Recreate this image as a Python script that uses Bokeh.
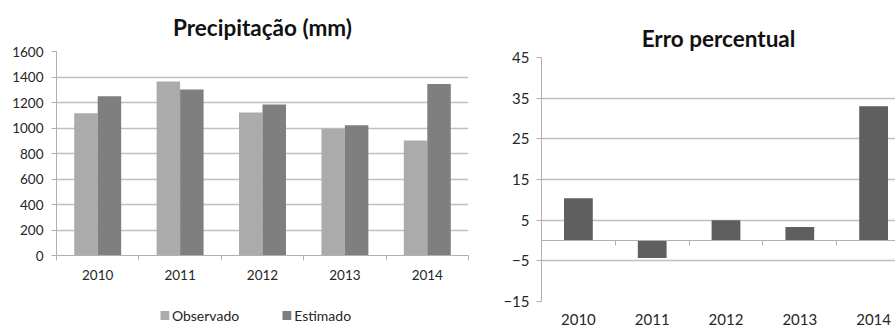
from bokeh.plotting import figure
from bokeh.models import (ColumnDataSource, Range1d, FixedTicker, LinearAxis, Legend,
                          LegendItem, Title, Grid)
from bokeh.transform import dodge
from bokeh.layouts import row, column
from bokeh.embed import file_html
from bokeh.resources import INLINE

years = ["2010", "2011", "2012", "2013", "2014"]
observado = [1116, 1365, 1122, 994, 902]
estimado = [1250, 1302, 1184, 1022, 1346]
erro = [10.4, -4.3, 5.0, 3.3, 33.0]
left_yticks = [0, 200, 400, 600, 800, 1000, 1200, 1400, 1600]
right_yticks = [-15, -5, 5, 15, 25, 35, 45]
series_names = ["Observado", "Estimado"]
titles = ["Precipitação (mm)", "Erro percentual"]

FONT = "Lato"
GRID = "#c0c0c0"
AXIS = "#b0b0b0"
TXT = "#262626"
C_OBS = "#ababab"
C_EST = "#7f7f7f"

centers = [i + 0.5 for i in range(len(years))]
bounds = [float(i) for i in range(len(years) + 1)]
labels = {c: y for c, y in zip(centers, years)}

# ---------------- left chart ----------------
src = ColumnDataSource(dict(x=centers, obs=observado, est=estimado))
p1 = figure(frame_width=412, frame_height=204, min_border_left=56, min_border_right=22,
            min_border_top=51, min_border_bottom=45, output_backend="svg",
            toolbar_location=None, x_range=Range1d(0, len(years)),
            y_range=Range1d(left_yticks[0], left_yticks[-1]),
            x_axis_location=None, y_axis_location=None, frame_align=False)
p1.outline_line_color = None
p1.xgrid.visible = False
p1.ygrid.visible = False
bw = 0.285
p1.add_layout(Grid(dimension=1, ticker=FixedTicker(ticks=left_yticks),
                   grid_line_color=GRID, grid_line_width=1.3))
p1.vbar(x=dodge("x", -bw / 2), top="obs", width=bw, bottom=0, source=src,
        color=C_OBS, line_color=None)
p1.vbar(x=dodge("x", bw / 2), top="est", width=bw, bottom=0, source=src,
        color=C_EST, line_color=None)

ya = LinearAxis(ticker=FixedTicker(ticks=left_yticks))
ya.axis_line_color = AXIS
ya.major_tick_line_color = AXIS
ya.major_tick_out = 5
ya.major_tick_in = 0
ya.minor_tick_line_color = None
ya.major_label_text_font = FONT
ya.major_label_text_font_size = "13.5px"
ya.major_label_text_color = TXT
ya.major_label_standoff = 8
p1.add_layout(ya, "left")

xa = LinearAxis(ticker=FixedTicker(ticks=centers, minor_ticks=bounds))
xa.major_label_overrides = labels
xa.axis_line_color = AXIS
xa.major_tick_line_color = None
xa.minor_tick_line_color = AXIS
xa.minor_tick_out = 5
xa.minor_tick_in = 0
xa.major_label_text_font = FONT
xa.major_label_text_font_size = "13.5px"
xa.major_label_text_color = TXT
xa.major_label_standoff = 8
p1.add_layout(xa, "below")

t1 = Title(text=titles[0], align="center", text_font=FONT,
           text_font_size="22.5px", text_font_style="bold", text_color="#111111",
           offset=-17, standoff=22)
p1.add_layout(t1, "above")

# legend strip under the left chart (swatch renderers sit outside the visible range)
pl = figure(width=490, height=29, min_border_left=20, min_border_right=0,
            min_border_top=0, min_border_bottom=0, output_backend="svg",
            toolbar_location=None, x_range=Range1d(0, 1), y_range=Range1d(0, 1),
            x_axis_location=None, y_axis_location=None, frame_align=False)
pl.outline_line_color = None
pl.xgrid.visible = False
pl.ygrid.visible = False
r_o = pl.vbar(x=[-10], top=[0], width=0.1, color=C_OBS, line_color=None)
r_e = pl.vbar(x=[-10], top=[0], width=0.1, color=C_EST, line_color=None)
leg = Legend(items=[LegendItem(label=series_names[0], renderers=[r_o]),
                    LegendItem(label=series_names[1], renderers=[r_e])],
             orientation="horizontal", location="center", spacing=42,
             glyph_width=11, glyph_height=11, label_standoff=2,
             label_text_font=FONT, label_text_font_size="14px", label_text_color=TXT,
             border_line_color=None, background_fill_alpha=0, padding=0, margin=0)
pl.add_layout(leg, "center")

# ---------------- right chart ----------------
src2 = ColumnDataSource(dict(x=centers, erro=erro))
p2 = figure(frame_width=354, frame_height=244, min_border_left=51, min_border_right=0,
            min_border_top=57, min_border_bottom=10, output_backend="svg",
            toolbar_location=None, x_range=Range1d(0, 354 / 73.8),
            y_range=Range1d(right_yticks[0], right_yticks[-1]),
            x_axis_location=None, y_axis_location=None, frame_align=False)
p2.outline_line_color = None
p2.xgrid.visible = False
p2.ygrid.visible = False
p2.add_layout(Grid(dimension=1, ticker=FixedTicker(ticks=right_yticks),
                   grid_line_color=GRID, grid_line_width=1.3))
p2.vbar(x="x", top="erro", bottom=0, width=0.39, source=src2, color="#5f5f5f",
        line_color=None)

ya2 = LinearAxis(ticker=FixedTicker(ticks=right_yticks))
ya2.axis_line_color = AXIS
ya2.major_tick_line_color = AXIS
ya2.major_tick_out = 5
ya2.major_tick_in = 0
ya2.minor_tick_line_color = None
ya2.major_label_text_font = FONT
ya2.major_label_text_font_size = "15px"
ya2.major_label_text_color = TXT
ya2.major_label_standoff = 7
p2.add_layout(ya2, "left")

xa2 = LinearAxis(ticker=FixedTicker(ticks=centers))
xa2.major_label_overrides = labels
xa2.axis_line_color = None
xa2.major_tick_line_color = None
xa2.minor_tick_line_color = None
xa2.major_tick_out = 0
xa2.major_label_text_font = FONT
xa2.major_label_text_font_size = "15px"
xa2.major_label_text_color = TXT
xa2.major_label_standoff = 12
p2.add_layout(xa2, "below")

za = LinearAxis(ticker=FixedTicker(ticks=[], minor_ticks=bounds), fixed_location=0)
za.axis_line_color = AXIS
za.major_tick_line_color = None
za.major_tick_out = 0
za.minor_tick_line_color = AXIS
za.minor_tick_out = 5
za.minor_tick_in = 0
za.major_label_standoff = 0
za.major_label_text_font_size = "0px"
p2.add_layout(za, "below")

t2 = Title(text=titles[1], align="center", text_font=FONT,
           text_font_size="22.5px", text_font_style="bold", text_color="#111111",
           offset=-9, standoff=12)
p2.add_layout(t2, "above")

layout = row(column(p1, pl, spacing=0), p2, spacing=0)
open("out.html", "w").write(file_html(layout, INLINE))
